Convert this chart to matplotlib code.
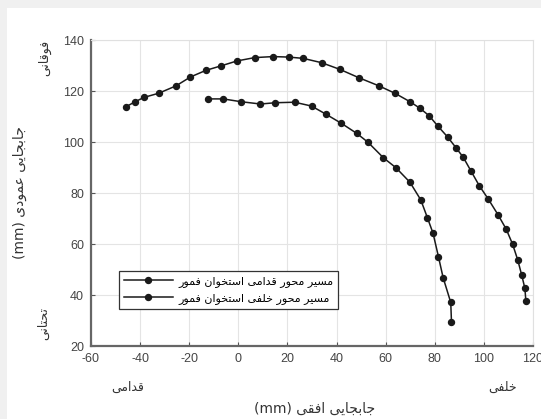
import matplotlib
matplotlib.use("Agg")
import matplotlib.pyplot as plt
from matplotlib.patches import Rectangle

# ---------------- data ----------------
anterior_x = [-45.8, -42.0, -38.4, -32.5, -25.4, -19.5, -13.2, -6.9, -0.5, 6.7, 14.2, 20.5,
              26.4, 33.9, 41.3, 49.1, 57.3, 63.8, 69.9, 74.0, 77.7, 81.2, 85.2, 88.6,
              91.6, 94.7, 98.1, 101.8, 105.8, 109.1, 111.7, 113.8, 115.4, 116.7, 117.1]
anterior_y = [113.8, 115.8, 117.5, 119.1, 122.0, 125.5, 128.1, 129.9, 131.8, 133.1, 133.5, 133.3,
              132.8, 131.1, 128.5, 125.2, 122.0, 119.1, 115.8, 113.2, 110.3, 106.3, 102.0, 97.8,
              94.0, 88.7, 82.9, 77.6, 71.4, 65.8, 59.9, 53.7, 47.8, 42.6, 37.6]
posterior_x = [-12.4, -6.2, 1.1, 9.0, 15.1, 22.9, 29.8, 35.5, 42.0, 48.2, 52.8, 59.1, 64.2,
               69.9, 74.3, 77.0, 79.3, 81.5, 83.4, 86.5, 86.8]
posterior_y = [116.9, 116.9, 115.8, 114.9, 115.4, 115.6, 114.1, 111.0, 107.3, 103.4, 99.9, 93.8, 89.9,
               84.2, 77.3, 70.3, 64.2, 55.0, 46.8, 37.1, 29.5]

legend_labels = ["مسیر محور قدامی استخوان فمور", "مسیر محور خلفی استخوان فمور"]
x_label = "جابجایی افقی (mm)"
y_label = "جابجایی عمودی (mm)"
label_superior = "فوقانی"
label_inferior = "تحتانی"
label_anterior = "قدامی"
label_posterior = "خلفی"
x_ticks = [-60, -40, -20, 0, 20, 40, 60, 80, 100, 120]
y_ticks = [20, 40, 60, 80, 100, 120, 140]

# ------------- simple Persian shaping for display -------------
FORMS = {
    '\u0627': ('\uFE8D', '\uFE8E', None, None),
    '\u0628': ('\uFE8F', '\uFE90', '\uFE91', '\uFE92'),
    '\u062A': ('\uFE95', '\uFE96', '\uFE97', '\uFE98'),
    '\u062C': ('\uFE9D', '\uFE9E', '\uFE9F', '\uFEA0'),
    '\u062D': ('\uFEA1', '\uFEA2', '\uFEA3', '\uFEA4'),
    '\u062E': ('\uFEA5', '\uFEA6', '\uFEA7', '\uFEA8'),
    '\u062F': ('\uFEA9', '\uFEAA', None, None),
    '\u0631': ('\uFEAD', '\uFEAE', None, None),
    '\u0633': ('\uFEB1', '\uFEB2', '\uFEB3', '\uFEB4'),
    '\u0639': ('\uFEC9', '\uFECA', '\uFECB', '\uFECC'),
    '\u0641': ('\uFED1', '\uFED2', '\uFED3', '\uFED4'),
    '\u0642': ('\uFED5', '\uFED6', '\uFED7', '\uFED8'),
    '\u0644': ('\uFEDD', '\uFEDE', '\uFEDF', '\uFEE0'),
    '\u0645': ('\uFEE1', '\uFEE2', '\uFEE3', '\uFEE4'),
    '\u0646': ('\uFEE5', '\uFEE6', '\uFEE7', '\uFEE8'),
    '\u0648': ('\uFEED', '\uFEEE', None, None),
    '\u06CC': ('\uFBFC', '\uFBFD', '\uFBFE', '\uFBFF'),
}


def shape_word(w):
    out = []
    for i, c in enumerate(w):
        if c not in FORMS:
            out.append(c)
            continue
        prev = w[i - 1] if i > 0 else None
        nxt = w[i + 1] if i + 1 < len(w) else None
        jp = prev in FORMS and FORMS[prev][2] is not None
        dual = FORMS[c][2] is not None
        jn = dual and nxt in FORMS
        iso, fin, ini, med = FORMS[c]
        if jp and jn:
            out.append(med)
        elif jp:
            out.append(fin)
        elif jn:
            out.append(ini)
        else:
            out.append(iso)
    return ''.join(reversed(out))


def rtl(s):
    toks = s.split(' ')
    res = []
    for t in toks:
        if any(ch in FORMS for ch in t):
            res.append(shape_word(t))
        else:
            res.append(t)
    return ' '.join(reversed(res))


plt.rcParams['font.family'] = ['Liberation Sans', 'DejaVu Sans']
plt.rcParams['axes.unicode_minus'] = False

W, H = 541, 419
fig = plt.figure(figsize=(W / 100, H / 100), dpi=100)
fig.patch.set_facecolor('white')
fig.add_artist(Rectangle((0, 1 - 8 / H), 1, 8 / H, transform=fig.transFigure,
                         facecolor='#f0f0f0', edgecolor='none', zorder=0))
fig.add_artist(Rectangle((0, 0), 7 / W, 1, transform=fig.transFigure,
                         facecolor='#f0f0f0', edgecolor='none', zorder=0))

ax_l, ax_r, ax_t, ax_b = 91, 533, 40, 346
ax = fig.add_axes([ax_l / W, 1 - ax_b / H, (ax_r - ax_l) / W, (ax_b - ax_t) / H])

line_color = '#1a1a1a'
ax.plot(anterior_x, anterior_y, '-o', color=line_color, lw=1.1, ms=4.3,
        label=rtl(legend_labels[0]))
ax.plot(posterior_x, posterior_y, '-o', color=line_color, lw=1.1, ms=4.3,
        label=rtl(legend_labels[1]))

ax.set_xlim(-60, 120)
ax.set_ylim(20, 140)
ax.set_xticks(x_ticks)
ax.set_yticks(y_ticks)
ax.grid(True, color='#e4e4e4', lw=0.8)
ax.set_axisbelow(True)
ax.tick_params(direction='in', length=3, width=0.8, colors='#555555', labelsize=9,
               labelcolor='#444444', pad=5)
for s in ['left', 'bottom']:
    ax.spines[s].set_color('#666666')
    ax.spines[s].set_linewidth(1.6)
for s in ['top', 'right']:
    ax.spines[s].set_color('#e0e0e0')
    ax.spines[s].set_linewidth(0.8)

leg = ax.legend(loc='lower left', bbox_to_anchor=(0.063, 0.121), borderaxespad=0,
                handlelength=4.4, numpoints=1, fancybox=False,
                framealpha=1, edgecolor='#333333', borderpad=0.45, labelspacing=0.55,
                handletextpad=0.5, prop={'family': ['DejaVu Sans'], 'size': 8.0})
leg.get_frame().set_linewidth(0.9)


def ftxt(px, py, s, rot=0, size=7.5):
    fig.text(px / W, 1 - py / H, rtl(s), rotation=rot, ha='center', va='center',
             fontsize=size, color='#333333', family=['DejaVu Sans'])


ftxt(45, 58, label_superior, rot=90, size=9)
ftxt(44, 324, label_inferior, rot=90, size=9)
ftxt(128, 387, label_anterior, size=9)
ftxt(503, 387, label_posterior, size=9)
ftxt(315, 409, x_label, size=10)
ftxt(20, 193, y_label, rot=90, size=10)

fig.savefig('out.png', dpi=100)
